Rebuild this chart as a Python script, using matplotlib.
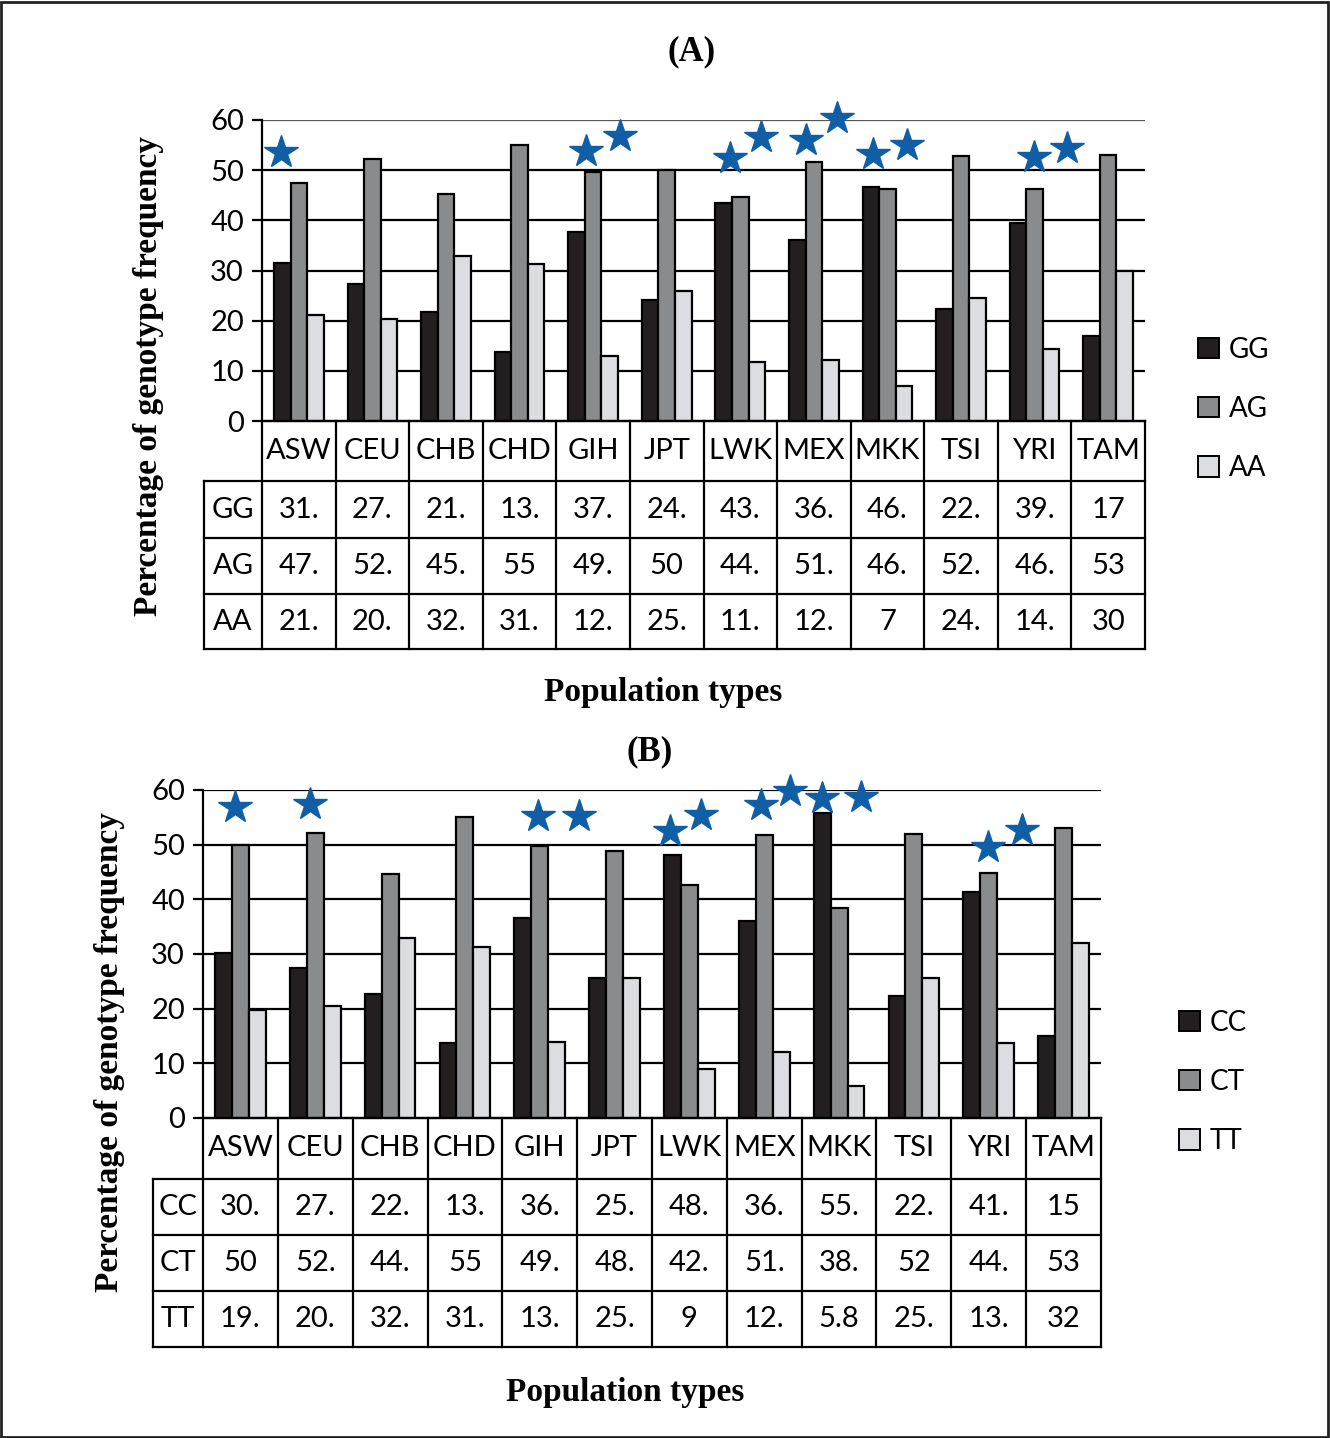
import numpy as np
import matplotlib
matplotlib.use('Agg')
import matplotlib.pyplot as plt
from matplotlib.patches import Patch, Rectangle

W, H = 1330, 1438
SANS = 'Lato'
SERIF = 'Liberation Serif'

populations = ['ASW', 'CEU', 'CHB', 'CHD', 'GIH', 'JPT', 'LWK', 'MEX', 'MKK', 'TSI', 'YRI', 'TAM']

# panel A (GG / AG / AA)
genotypes_a = ['GG', 'AG', 'AA']
gg = [31.5, 27.3, 21.8, 13.7, 37.6, 24.1, 43.4, 36.1, 46.7, 22.4, 39.4, 17]
ag = [47.5, 52.2, 45.3, 55, 49.7, 50, 44.6, 51.7, 46.2, 52.9, 46.2, 53]
aa = [21.2, 20.4, 32.8, 31.2, 12.9, 25.9, 11.7, 12.1, 7, 24.5, 14.3, 30]
stars_a_x = [-0.24, 3.90, 4.36, 5.86, 6.28, 6.89, 7.32, 7.81, 8.27, 9.99, 10.44]
stars_a_y = [53.7, 53.8, 56.8, 52.5, 56.7, 56.1, 60.4, 53.2, 55.0, 52.7, 54.5]

# panel B (CC / CT / TT)
genotypes_b = ['CC', 'CT', 'TT']
cc = [30.2, 27.4, 22.6, 13.8, 36.6, 25.7, 48.2, 36.1, 55.8, 22.3, 41.4, 15]
ct = [50, 52.2, 44.6, 55, 49.7, 48.8, 42.6, 51.7, 38.5, 52, 44.9, 53]
tt = [19.8, 20.5, 32.9, 31.3, 13.9, 25.7, 9, 12.1, 5.8, 25.6, 13.7, 32]
stars_b_x = [-0.07, 0.93, 3.98, 4.52, 5.74, 6.16, 6.95, 7.35, 7.77, 8.29, 9.99, 10.44]
stars_b_y = [56.8, 57.4, 55.2, 55.2, 52.5, 55.4, 57.2, 59.9, 58.6, 58.7, 49.6, 52.6]

bar_colors = ['#231f20', '#8a8b8d', '#dcdde0']
star_color = '#0f5ea6'


def cell_text(v):
    if float(v).is_integer():
        return str(int(v))
    if v < 10:
        return '%.1f' % v
    return '%d.' % int(v)


def px_axes(fig, left, top, right, bottom):
    return fig.add_axes([left / W, 1 - bottom / H, (right - left) / W, (bottom - top) / H])


def draw_panel(fig, series, genotypes, sx, sy, left, right, top, bottom,
               rows, label_left, leg_xy, title, title_xy, xlab_xy, ylab_xy, thin_top):
    ax = px_axes(fig, left, top, right, bottom)
    x = np.arange(len(populations))
    w = 0.225
    for i, vals in enumerate(series):
        ax.bar(x + (i - 1) * w, vals, w, color=bar_colors[i], edgecolor='black',
               linewidth=1.6, zorder=3)
    ax.plot(sx, sy, linestyle='none', marker='*', markersize=25, color=star_color,
            zorder=5, clip_on=False)
    ax.set_xlim(-0.5, len(populations) - 0.5)
    ax.set_ylim(0, 60)
    ax.set_yticks(range(0, 61, 10))
    ax.set_xticks([])
    for g in range(10, 60, 10):
        ax.axhline(g, color='black', linewidth=1.6, zorder=1)
    if thin_top:
        ax.axhline(60, color='#555555', linewidth=0.9, zorder=1)
    else:
        ax.axhline(60, color='black', linewidth=1.6, zorder=1)
    for s in ['top', 'right']:
        ax.spines[s].set_visible(False)
    ax.spines['left'].set_linewidth(1.6)
    ax.spines['bottom'].set_linewidth(1.6)
    ax.tick_params(axis='y', direction='out', length=7, width=1.6, labelsize=21, pad=6)
    for lab in ax.get_yticklabels():
        lab.set_fontfamily(SANS)

    # data table underneath
    tb = px_axes(fig, left, bottom, right, rows[-1])
    tb.set_xlim(-0.5, len(populations) - 0.5)
    tb.set_ylim(rows[-1] - bottom, 0)
    tb.axis('off')
    r = [v - bottom for v in rows]
    kw = dict(color='black', linewidth=1.6, clip_on=False, solid_capstyle='projecting')
    for k in range(len(populations) + 1):
        tb.plot([k - 0.5, k - 0.5], [0, r[-1]], **kw)
    tb.plot([label_left, label_left], [r[1], r[-1]], **kw)
    tb.plot([-0.5, len(populations) - 0.5], [r[0], r[0]], **kw)
    for yy in r[1:]:
        tb.plot([label_left, len(populations) - 0.5], [yy, yy], **kw)
    for k, p in enumerate(populations):
        tb.text(k, (r[0] + r[1]) / 2, p, ha='center', va='center', fontsize=21,
                family=SANS, clip_on=False)
    for j, (g, vals) in enumerate(zip(genotypes, series)):
        yc = (r[j + 1] + r[j + 2]) / 2
        tb.text((label_left - 0.5) / 2, yc, g, ha='center', va='center', fontsize=21,
                family=SANS, clip_on=False)
        for k, v in enumerate(vals):
            tb.text(k, yc, cell_text(v), ha='center', va='center', fontsize=21,
                    family=SANS, clip_on=False)

    handles = [Patch(facecolor=c, edgecolor='black', linewidth=1.4) for c in bar_colors]
    fig.legend(handles, genotypes, loc='center left',
               bbox_to_anchor=(leg_xy[0] / W, 1 - leg_xy[1] / H), frameon=False,
               prop={'family': SANS, 'size': 20}, handlelength=0.75, handleheight=0.75,
               handletextpad=0.35, labelspacing=1.2, borderpad=0, borderaxespad=0)

    fig.text(title_xy[0] / W, 1 - title_xy[1] / H, title, ha='center', va='center',
             fontsize=25, fontweight='bold', family=SERIF)
    fig.text(xlab_xy[0] / W, 1 - xlab_xy[1] / H, 'Population types', ha='center',
             va='center', fontsize=24, fontweight='bold', family=SERIF)
    fig.text(ylab_xy[0] / W, 1 - ylab_xy[1] / H, 'Percentage of genotype frequency',
             ha='center', va='center', rotation=90, fontsize=24, fontweight='bold', family=SERIF)


fig = plt.figure(figsize=(W / 100, H / 100), dpi=100)
fig.patch.set_facecolor('white')

draw_panel(fig, [gg, ag, aa], genotypes_a, stars_a_x, stars_a_y,
           262, 1145, 120, 421, [421, 481, 538, 594, 649], -1.29,
           (1198, 409), '(A)', (692, 52), (663, 693), (148, 376), True)
draw_panel(fig, [cc, ct, tt], genotypes_b, stars_b_x, stars_b_y,
           203, 1101, 790, 1118, [1118, 1179, 1235, 1291, 1347], -1.17,
           (1179, 1082), '(B)', (650, 752), (625, 1392), (110, 1052), False)

fig.add_artist(Rectangle((1 / W, 1 / H), 1 - 3 / W, 1 - 3 / H, transform=fig.transFigure,
                         fill=False, edgecolor='#222222', linewidth=2))

fig.savefig('out.png', dpi=100)
